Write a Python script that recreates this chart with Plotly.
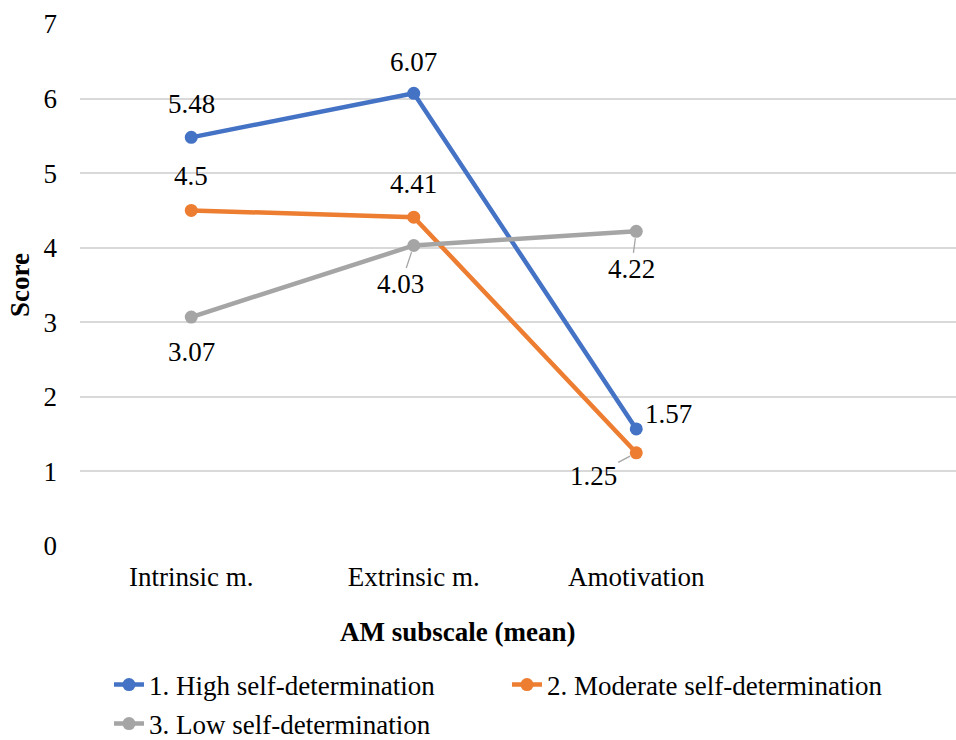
import plotly.graph_objects as go

# Subscales of the Academic Motivation scale (mean scores)
categories = ["Intrinsic m.", "Extrinsic m.", "Amotivation"]
series_names = [
    "1. High self-determination",
    "2. Moderate self-determination",
    "3. Low self-determination",
]
high_values = [5.48, 6.07, 1.57]
moderate_values = [4.5, 4.41, 1.25]
low_values = [3.07, 4.03, 4.22]
y_ticks = [0, 1, 2, 3, 4, 5, 6, 7]

colors = ["#4472C4", "#ED7D31", "#A5A5A5"]
FONT = "Liberation Serif, Times New Roman, serif"
FS = 27

xs = list(range(len(categories)))
all_values = [high_values, moderate_values, low_values]
legend_ids = ["legend", "legend", "legend2"]

fig = go.Figure()
for name, vals, col, lg in zip(series_names, all_values, colors, legend_ids):
    fig.add_trace(go.Scatter(
        x=xs, y=vals, name=name, mode="lines+markers",
        line=dict(color=col, width=4.5),
        marker=dict(color=col, size=13),
        cliponaxis=False, legend=lg,
    ))

# Label placement per series/point: (dx, dy, leader line)
label_style = [
    [(0, -33, False), (0, -31, False), (32, -15, False)],
    [(0, -34, False), (0, -33, False), (-43, 23, True)],
    [(0, 35, False), (-13, 39, True), (-5, 38, True)],
]

annotations = []
for vals, styles in zip(all_values, label_style):
    for xi, v, (dx, dy, leader) in zip(xs, vals, styles):
        txt = f"{v:g}"
        if leader:
            annotations.append(dict(
                x=xi, y=v, xref="x", yref="y", text=txt,
                showarrow=True, ax=dx, ay=dy, axref="pixel", ayref="pixel",
                arrowhead=0, arrowwidth=1.3, arrowcolor="#A5A5A5", standoff=7,
                xanchor="center", yanchor="middle",
                font=dict(family=FONT, size=FS, color="#000000"),
            ))
        else:
            annotations.append(dict(
                x=xi, y=v, xref="x", yref="y", text=txt, showarrow=False,
                xshift=dx, yshift=-dy, xanchor="center", yanchor="middle",
                font=dict(family=FONT, size=FS, color="#000000"),
            ))

# Axis titles
annotations.append(dict(
    x=0.4315, y=-0.165, xref="paper", yref="paper", text="<b>AM subscale (mean)</b>",
    showarrow=False, xanchor="center", yanchor="middle",
    font=dict(family=FONT, size=FS, color="#000000"),
))
annotations.append(dict(
    x=-0.0685, y=0.5, xref="paper", yref="paper", text="<b>Score</b>",
    showarrow=False, textangle=-90, xanchor="center", yanchor="middle",
    font=dict(family=FONT, size=FS, color="#000000"),
))

legend_common = dict(
    orientation="h", xref="container", yref="container",
    xanchor="left", yanchor="middle",
    entrywidth=353, entrywidthmode="pixels",
    font=dict(family=FONT, size=FS, color="#000000"),
    bgcolor="rgba(0,0,0,0)", traceorder="normal",
)

fig.update_layout(
    width=956, height=740,
    margin=dict(l=80, r=0, t=24, b=194, autoexpand=False),
    paper_bgcolor="white", plot_bgcolor="white",
    font=dict(family=FONT, size=FS, color="#000000"),
    showlegend=True,
    legend=dict(legend_common, x=0.114, y=1 - 685 / 740),
    legend2=dict(legend_common, x=0.114, y=1 - 724 / 740),
    annotations=annotations,
    xaxis=dict(
        range=[-0.5, 3.437], tickvals=xs, ticktext=categories,
        showgrid=False, zeroline=False, showline=False, ticks="",
        tickfont=dict(family=FONT, size=FS, color="#000000"),
        ticklabelstandoff=12, fixedrange=True,
    ),
    yaxis=dict(
        range=[0, 7], tickvals=y_ticks, showgrid=True, gridcolor="#D9D9D9",
        gridwidth=1.5, zeroline=False, showline=False, ticks="",
        tickfont=dict(family=FONT, size=FS, color="#000000"),
        ticklabelstandoff=22, fixedrange=True,
    ),
)

fig.write_html("out.html")
